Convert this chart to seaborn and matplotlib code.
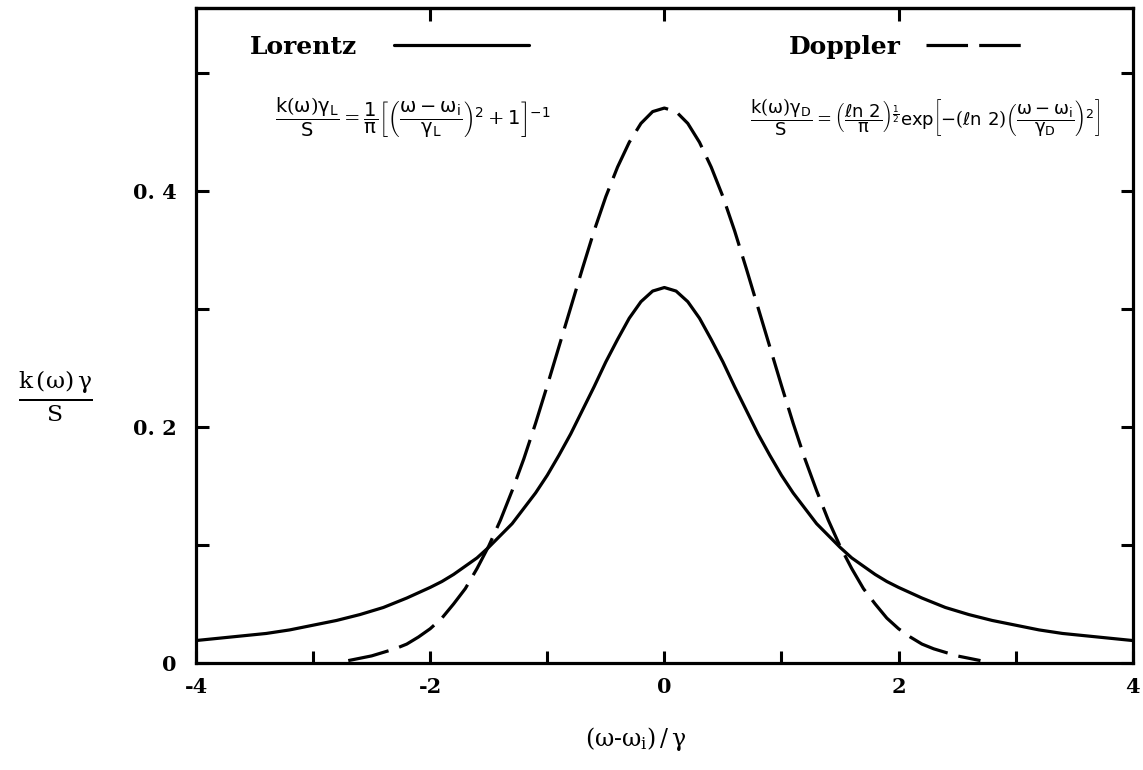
import matplotlib
matplotlib.use("Agg")
import matplotlib.pyplot as plt
import seaborn as sns
import pandas as pd
from matplotlib.ticker import FixedLocator, FixedFormatter

# values
lorentz_x = [-4.0, -3.8, -3.6, -3.4, -3.2, -3.0, -2.8, -2.6, -2.4, -2.2,
             -2.0, -1.9, -1.8, -1.7, -1.6, -1.5, -1.4, -1.3, -1.2, -1.1,
             -1.0, -0.9, -0.8, -0.7, -0.6, -0.5, -0.4, -0.3, -0.2, -0.1, 0.0,
             0.1, 0.2, 0.3, 0.4, 0.5, 0.6, 0.7, 0.8, 0.9, 1.0,
             1.1, 1.2, 1.3, 1.4, 1.5, 1.6, 1.7, 1.8, 1.9, 2.0,
             2.2, 2.4, 2.6, 2.8, 3.0, 3.2, 3.4, 3.6, 3.8, 4.0]
lorentz_y = [0.019, 0.021, 0.023, 0.025, 0.028, 0.032, 0.036, 0.041, 0.047, 0.055,
             0.064, 0.069, 0.075, 0.082, 0.089, 0.098, 0.108, 0.118, 0.131, 0.144,
             0.159, 0.176, 0.194, 0.214, 0.234, 0.255, 0.274, 0.292, 0.306, 0.315, 0.318,
             0.315, 0.306, 0.292, 0.274, 0.255, 0.234, 0.214, 0.194, 0.176, 0.159,
             0.144, 0.131, 0.118, 0.108, 0.098, 0.089, 0.082, 0.075, 0.069, 0.064,
             0.055, 0.047, 0.041, 0.036, 0.032, 0.028, 0.025, 0.023, 0.021, 0.019]

doppler_x = [-2.7, -2.6, -2.5, -2.4, -2.3, -2.2, -2.1, -2.0, -1.9, -1.8, -1.7, -1.6, -1.5, -1.4,
             -1.3, -1.2, -1.1, -1.0, -0.9, -0.8, -0.7, -0.6, -0.5, -0.4, -0.3, -0.2, -0.1, 0.0,
             0.1, 0.2, 0.3, 0.4, 0.5, 0.6, 0.7, 0.8, 0.9, 1.0, 1.1, 1.2, 1.3, 1.4,
             1.5, 1.6, 1.7, 1.8, 1.9, 2.0, 2.1, 2.2, 2.3, 2.4, 2.5, 2.6, 2.7]
doppler_y = [0.002, 0.004, 0.006, 0.009, 0.012, 0.016, 0.022, 0.029, 0.038, 0.050, 0.063, 0.080, 0.099, 0.121,
             0.146, 0.173, 0.203, 0.235, 0.268, 0.301, 0.334, 0.366, 0.395, 0.420, 0.441, 0.457, 0.467, 0.470,
             0.467, 0.457, 0.441, 0.420, 0.395, 0.366, 0.334, 0.301, 0.268, 0.235, 0.203, 0.173, 0.146, 0.121,
             0.099, 0.080, 0.063, 0.050, 0.038, 0.029, 0.022, 0.016, 0.012, 0.009, 0.006, 0.004, 0.002]

x_ticks = [-4, -3, -2, -1, 0, 1, 2, 3, 4]
x_labels = ["-4", "", "-2", "", "0", "", "2", "", "4"]
y_ticks = [0.0, 0.1, 0.2, 0.3, 0.4, 0.5]
y_labels = ["0", "", "0. 2", "", "0. 4", ""]
top_ticks = [-2, 0, 2]


def main():
    sns.set_theme(style="white")
    plt.rcParams["font.family"] = ["DejaVu Serif"]
    plt.rcParams["axes.unicode_minus"] = False
    plt.rcParams["mathtext.fontset"] = "custom"
    plt.rcParams["mathtext.rm"] = "DejaVu Serif"
    plt.rcParams["mathtext.it"] = "DejaVu Sans"
    plt.rcParams["mathtext.sf"] = "DejaVu Sans"
    for key in ["text.color", "axes.labelcolor", "xtick.color", "ytick.color"]:
        plt.rcParams[key] = "black"

    lor = pd.DataFrame({"x": lorentz_x, "y": lorentz_y})
    dop = pd.DataFrame({"x": doppler_x, "y": doppler_y})

    fig = plt.figure(figsize=(11.43, 7.70), dpi=100)
    ax = fig.add_axes([0.1715, 0.139, 0.8195, 0.851])

    sns.lineplot(x="x", y="y", data=lor, ax=ax, color="black", lw=2.3,
                 errorbar=None, label="Lorentz")
    sns.lineplot(x="x", y="y", data=dop, ax=ax, color="black", lw=2.3,
                 errorbar=None, label="Doppler", linestyle=(0, (13, 3.5)))

    ax.set_xlim(-4, 4)
    ax.set_ylim(0, 0.555)
    for s in ax.spines.values():
        s.set_visible(True)
        s.set_color("black")
        s.set_linewidth(2.3)

    ax.xaxis.set_major_locator(FixedLocator(x_ticks))
    ax.xaxis.set_major_formatter(FixedFormatter(x_labels))
    ax.yaxis.set_major_locator(FixedLocator(y_ticks))
    ax.yaxis.set_major_formatter(FixedFormatter(y_labels))
    ax.tick_params(axis="both", direction="in", length=9, width=2.2, color="black",
                   labelsize=15, left=True, right=True, bottom=True)
    ax.tick_params(axis="x", pad=10)
    ax.tick_params(axis="y", pad=14)
    for lab in ax.get_xticklabels() + ax.get_yticklabels():
        lab.set_fontweight("bold")

    top = ax.secondary_xaxis("top")
    top.set_xticks(top_ticks)
    top.set_xticklabels([])
    top.tick_params(direction="in", length=9, width=2.2, color="black")
    top.spines["top"].set_linewidth(2.3)

    ax.set_xlabel(r"$\mathrm{(\omega}$-$\mathrm{\omega_{i})\,/\,\gamma}$", fontsize=17, labelpad=22)
    ax.xaxis.set_label_coords(0.47, -0.095)
    ax.set_ylabel(r"$\frac{\mathrm{k\,(\omega)\,\gamma}}{\mathrm{S}}$", fontsize=24,
                  rotation=0, labelpad=0)
    ax.yaxis.set_label_coords(-0.15, 0.365)

    # two separate key entries, text first then line sample
    handles, labels = ax.get_legend_handles_labels()
    leg_font = {"size": 18, "weight": "bold"}
    leg1 = ax.legend(handles[:1], labels[:1], loc="upper left", bbox_to_anchor=(0.057, 0.958),
                     frameon=False, markerfirst=False, handlelength=5.4, handletextpad=1.5,
                     borderaxespad=0, borderpad=0, prop=leg_font)
    ax.add_artist(leg1)
    ax.legend(handles[1:], labels[1:], loc="upper left", bbox_to_anchor=(0.633, 0.958),
              frameon=False, markerfirst=False, handlelength=4.0, handletextpad=1.0,
              borderaxespad=0, borderpad=0, prop=leg_font)

    ax.text(0.084, 0.832,
            r"$\dfrac{k(\omega)\gamma_L}{S}=\dfrac{\mathsf{1}}{\pi}\left[\left(\dfrac{\omega-\omega_i}{\gamma_L}\right)^{\mathsf{2}}+\mathsf{1}\right]^{-\mathsf{1}}$",
            transform=ax.transAxes, fontsize=14, va="center", ha="left")
    ax.text(0.591, 0.832,
            r"$\dfrac{k(\omega)\gamma_D}{S}=\left(\dfrac{\ell n\ \mathsf{2}}{\pi}\right)^{\frac{\mathsf{1}}{\mathsf{2}}}\mathsf{exp}\left[-(\ell n\ \mathsf{2})\left(\dfrac{\omega-\omega_i}{\gamma_D}\right)^{\mathsf{2}}\right]$",
            transform=ax.transAxes, fontsize=13, va="center", ha="left")

    fig.savefig("out.png", dpi=100)


if __name__ == "__main__":
    main()
